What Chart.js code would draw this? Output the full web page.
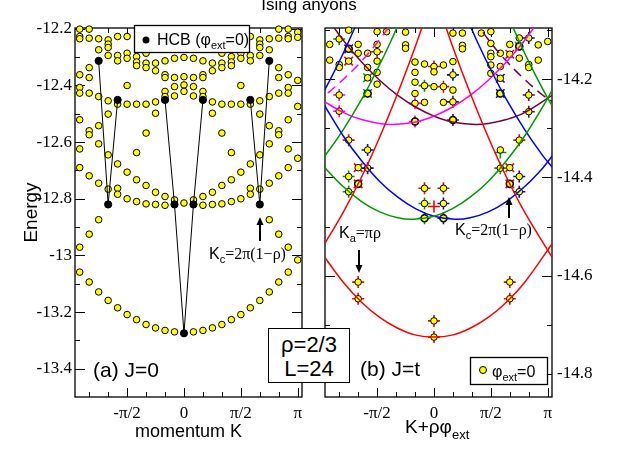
<!DOCTYPE html>
<html><head><meta charset="utf-8">
<script src="https://cdn.jsdelivr.net/npm/chart.js@4.4.1/dist/chart.umd.min.js"></script>
<style>
html,body{margin:0;padding:0;background:#fff;}
#root{position:relative;width:618px;height:451px;overflow:hidden;background:#fff;}
#c1{position:absolute;left:0;top:0;}
#c2{position:absolute;left:312px;top:0;}
#title{position:absolute;left:0;width:618px;top:-4px;text-align:center;font:17px 'Liberation Sans';line-height:17px;color:#000;}
#box{position:absolute;left:268px;top:328px;width:82px;height:55px;box-sizing:border-box;border:1.3px solid #000;background:#fff;font:22px 'Liberation Sans';text-align:center;line-height:24px;padding-top:4px;color:#000;}
</style></head>
<body>
<div id="root">
<canvas id="c1" width="312" height="451"></canvas>
<canvas id="c2" width="306" height="451"></canvas>
<div id="title">Ising anyons</div>
<div id="box">ρ=2/3<br>L=24</div>
</div>
<script>
const PI = Math.PI;
const L = 24;
// ---------- panel (a) J=0 : momentum index n (K = 2πn/L) and energies ----------
const leftYellowN = [
-11,-11,-11,-11,-11,-11,-11,-11,-11,-11,-11,
-10,-10,-10,-10,-10,-10,-10,-10,-10,-10,
-9,-9,-9,-9,-9,-9,-9,-9,
-8,-8,-8,-8,-8,-8,-8,-8,-8,
-7,-7,-7,-7,-7,-7,-7,-7,
-6,-6,-6,-6,-6,-6,-6,-6,
-5,-5,-5,-5,-5,-5,-5,-5,
-4,-4,-4,-4,-4,-4,-4,-4,
-3,-3,-3,-3,-3,-3,-3,
-2,-2,-2,-2,-2,-2,-2,-2,
-1,-1,-1,-1,-1,-1,
0,0,0,0,0,
1,1,1,1,1,1,
2,2,2,2,2,2,2,2,
3,3,3,3,3,3,3,
4,4,4,4,4,4,4,4,
5,5,5,5,5,5,5,5,
6,6,6,6,6,6,6,6,
7,7,7,7,7,7,7,7,
8,8,8,8,8,8,8,8,8,
9,9,9,9,9,9,9,9,
10,10,10,10,10,10,10,10,10,10,
11,11,11,11,11,11,11,11,11,11,11,
12,12,12,12,12,12];
const leftYellowE = [
-12.201,-12.227,-12.235,-12.362,-12.407,-12.427,-12.521,-12.624,-12.690,-12.971,-13.059,
-12.201,-12.233,-12.337,-12.372,-12.427,-12.560,-12.574,-12.719,-12.925,-13.094,
-12.235,-12.274,-12.439,-12.542,-12.606,-12.745,-12.874,-13.129,
-12.239,-12.254,-12.266,-12.294,-12.454,-12.501,-12.645,-12.766,-13.159,
-12.227,-12.294,-12.313,-12.466,-12.677,-12.763,-12.784,-13.185,
-12.227,-12.286,-12.304,-12.400,-12.466,-12.706,-12.800,-13.209,
-12.298,-12.317,-12.330,-12.466,-12.637,-12.733,-12.810,-13.227,
-12.286,-12.321,-12.337,-12.466,-12.568,-12.753,-12.818,-13.244,
-12.321,-12.348,-12.458,-12.498,-12.777,-12.820,-13.256,
-12.313,-12.362,-12.372,-12.421,-12.439,-12.792,-12.823,-13.265,
-12.304,-12.372,-12.404,-12.437,-12.804,-13.270,
-12.301,-12.369,-12.398,-12.421,-12.815,
-12.304,-12.372,-12.404,-12.437,-12.804,-13.270,
-12.313,-12.362,-12.372,-12.421,-12.439,-12.792,-12.823,-13.265,
-12.321,-12.348,-12.458,-12.498,-12.777,-12.820,-13.256,
-12.286,-12.321,-12.337,-12.466,-12.568,-12.753,-12.818,-13.244,
-12.298,-12.317,-12.330,-12.466,-12.637,-12.733,-12.810,-13.227,
-12.227,-12.286,-12.304,-12.400,-12.466,-12.706,-12.800,-13.209,
-12.227,-12.294,-12.313,-12.466,-12.677,-12.763,-12.784,-13.185,
-12.239,-12.254,-12.266,-12.294,-12.454,-12.501,-12.645,-12.766,-13.159,
-12.235,-12.274,-12.439,-12.542,-12.606,-12.745,-12.874,-13.129,
-12.201,-12.233,-12.337,-12.372,-12.427,-12.560,-12.574,-12.719,-12.925,-13.094,
-12.201,-12.227,-12.235,-12.362,-12.407,-12.427,-12.521,-12.624,-12.690,-12.971,-13.059,
-12.212,-12.382,-12.474,-12.657,-13.016,-12.230];
// HCB (phi_ext = 0), null = break in the line
const hcbN = [-9,-8,-7,null,-2,-1,0,1,2,null,7,8,9];
const hcbE = [-12.313,-12.820,-12.451,null,-12.451,-12.820,-13.275,-12.820,-12.451,null,-12.451,-12.820,-12.313];

// ---------- panel (b) J=t ----------
const rightYellowN = [-11,-11,-10,-10,-10,-10,-10,-9,-9,-9,-8,-8,-7,-7,-7,-7,-6,-6,-6,-6,-6,-6,-5,-3,-3,-3,-2,-2,-2,-2,-2,-2,-1,-1,-1,0,0,0,
 1,1,1,2,2,2,2,2,2,3,3,3,5,6,6,6,6,6,6,7,7,7,7,8,8,9,9,9,10,10,10,10,10,11,11,12,
 -9,-9,-9,-8,-8,-7,-7,-1,-1,-1,1,1,1,7,7,8,8,9,9,9,
 -8,-8,0,0,8,8];
const rightYellowE = [-14.129,-14.161,-14.118,-14.170,-14.176,-14.232,-14.265,-14.100,-14.138,-14.163,-14.129,-14.147,-14.147,-14.176,-14.197,-14.229,-14.103,-14.129,-14.144,-14.163,-14.186,-14.210,-14.103,-14.104,-14.130,-14.137,-14.165,-14.186,-14.206,-14.229,-14.249,-14.286,-14.169,-14.213,-14.247,-14.174,-14.185,-14.215,
 -14.171,-14.215,-14.247,-14.106,-14.164,-14.191,-14.222,-14.246,-14.283,-14.106,-14.131,-14.138,-14.106,-14.103,-14.127,-14.147,-14.154,-14.171,-14.188,-14.147,-14.174,-14.198,-14.229,-14.129,-14.149,-14.116,-14.133,-14.157,-14.116,-14.170,-14.176,-14.232,-14.266,-14.130,-14.161,-14.123,
 -14.324,-14.398,-14.429,-14.380,-14.413,-14.344,-14.381,-14.422,-14.453,-14.483,-14.422,-14.453,-14.483,-14.344,-14.381,-14.380,-14.413,-14.324,-14.398,-14.429,
 -14.613,-14.647,-14.692,-14.725,-14.613,-14.647];
const redPlusN = [-9,9,-1,1,0,-8,-8,0,0,8,8,0,-6,1];
const redPlusE = [-14.324,-14.324,-14.422,-14.422,-14.459,-14.613,-14.647,-14.692,-14.725,-14.613,-14.647,-14.174,-14.144,-14.215];
const greenPlusN = [-9,-9,7,7,-1,-1,-1,-10];
const greenPlusE = [-14.398,-14.429,-14.349,-14.381,-14.453,-14.483,-14.213,-14.118];
const bluePlusN = [-7,-7,9,9,1,1,10,2];
const bluePlusE = [-14.344,-14.381,-14.398,-14.429,-14.453,-14.483,-14.116,-14.191];
const redXN = [-8,8,-8,8,-9,8];
const redXE = [-14.380,-14.380,-14.413,-14.413,-14.163,-14.149];
const greenXN = [-7,-7,9];
const greenXE = [-14.197,-14.229,-14.133];
const blueXN = [7,7,-9];
const blueXE = [-14.198,-14.229,-14.138];
const magentaPlusN = [-10,-10,-2,-2];
const magentaPlusE = [-14.232,-14.265,-14.249,-14.286];
const maroonPlusN = [10,10,2,2];
const maroonPlusE = [-14.232,-14.266,-14.246,-14.283];
const blackDotN = [-9,-7,7,9,-8,8,-1,1,-2,2];
const blackDotE = [-14.138,-14.229,-14.229,-14.133,-14.413,-14.413,-14.483,-14.483,-14.286,-14.283];

// dispersion curves (K, E)
const redK = [-3.1,-2.5,-2,-1.5,-1,-0.5,0,0.5,1,1.5,2,2.5,3.3];
const redE = [-14.554,-14.614,-14.654,-14.685,-14.707,-14.721,-14.725,-14.721,-14.707,-14.685,-14.654,-14.614,-14.531];
const redLeftK = [-3.1,-2.5,-2,-1.5,-1,-0.5,-0.2];
const redLeftE = [-14.545,-14.470,-14.399,-14.318,-14.228,-14.130,-14.066];
const redRightK = [0.2,0.5,1,1.5,2,2.5,3.3];
const redRightE = [-14.066,-14.130,-14.228,-14.318,-14.399,-14.470,-14.567];
const blueK = [-3.1,-2.5,-2,-1.5,-1,-0.5,0,0.58,1,1.5,2,2.5,3,3.3];
const blueE = [-14.244,-14.316,-14.366,-14.408,-14.440,-14.464,-14.479,-14.485,-14.482,-14.470,-14.449,-14.419,-14.381,-14.353];
const greenK = [-3.3,-3,-2.5,-2,-1.5,-1,-0.58,0,0.5,1,1.5,2,2.5,3.1,3.3];
const greenE = [-14.353,-14.381,-14.419,-14.449,-14.470,-14.482,-14.485,-14.479,-14.464,-14.440,-14.408,-14.366,-14.316,-14.244,-14.217];
const blueRightK = [0.8,1.2,1.6,2,2.5,3,3.3];
const blueRightE = [-14.057,-14.124,-14.185,-14.241,-14.302,-14.355,-14.382];
const greenLeftK = [-3.3,-3,-2.5,-2,-1.6,-1.2,-0.8];
const greenLeftE = [-14.382,-14.355,-14.302,-14.241,-14.185,-14.124,-14.057];
const greenRightK = [1.9,2.2,2.5,2.8,3.05,3.3];
const greenRightE = [-14.046,-14.097,-14.146,-14.191,-14.226,-14.259];
const blueLeftK = [-3.3,-3.05,-2.8,-2.5,-2.2,-1.9];
const blueLeftE = [-14.259,-14.226,-14.191,-14.146,-14.097,-14.046];
const magentaK = [-3.1,-2.5,-2,-1.5,-1.13,-0.5,0,0.5,1,1.5,2,2.5,3];
const magentaE = [-14.242,-14.268,-14.282,-14.290,-14.292,-14.287,-14.275,-14.257,-14.233,-14.202,-14.165,-14.121,-14.070];
const maroonK = [-3,-2.5,-2,-1.5,-1,-0.5,0,0.5,1.13,1.5,2,2.5,3.3];
const maroonE = [-14.070,-14.121,-14.165,-14.202,-14.233,-14.257,-14.275,-14.287,-14.292,-14.290,-14.282,-14.268,-14.231];
const magentaDashK = [-3.3,-3,-2.5,-2,-1.5,-1.1];
const magentaDashE = [-14.247,-14.232,-14.200,-14.163,-14.119,-14.078];
const maroonDashK = [1.1,1.5,2,2.5,3,3.3];
const maroonDashE = [-14.078,-14.119,-14.163,-14.200,-14.232,-14.247];

// ---------- helpers ----------
const kOf = n => n * 2 * PI / L;
const pts = (N, E) => N.map((n, i) => n === null ? {x: NaN, y: null} : {x: kOf(n), y: E[i]});
const crv = (K, E) => K.map((k, i) => ({x: k, y: E[i]}));

const xMajor = [-PI/2, 0, PI/2, PI];
const xMinor = [-5*PI/6, -2*PI/3, -PI/3, -PI/6, PI/6, PI/3, 2*PI/3, 5*PI/6];
const xLabels = ['-π/2', '0', 'π/2', 'π'];
const leftYMajor = [-12.2, -12.4, -12.6, -12.8, -13, -13.2, -13.4];
const leftYMinor = [-12.3, -12.5, -12.7, -12.9, -13.1, -13.3];
const rightYMajor = [-14.2, -14.4, -14.6, -14.8];
const rightYMinor = [-14.1, -14.3, -14.5, -14.7];

const serif = "'Liberation Serif', 'DejaVu Serif', serif";
const sans = "'Liberation Sans', Arial, sans-serif";

const frameTicks = {
  id: 'frameTicks',
  beforeDatasetsDraw(chart, args, o) {
    const {ctx, chartArea: a} = chart;
    const x = chart.scales.x, y = chart.scales[o.yId];
    ctx.save();
    ctx.strokeStyle = '#000'; ctx.lineWidth = 1.3;
    ctx.strokeRect(a.left, a.top, a.right - a.left, a.bottom - a.top);
    ctx.lineWidth = 1;
    const seg = (x1, y1, x2, y2) => { ctx.beginPath(); ctx.moveTo(x1, y1); ctx.lineTo(x2, y2); ctx.stroke(); };
    const tx = (v, len) => { const p = Math.round(x.getPixelForValue(v)) + 0.5; seg(p, a.bottom, p, a.bottom - len); seg(p, a.top, p, a.top + len); };
    const ty = (v, len) => { const p = Math.round(y.getPixelForValue(v)) + 0.5; seg(a.left, p, a.left + len, p); seg(a.right, p, a.right - len, p); };
    xMajor.forEach(v => tx(v, 9)); xMinor.forEach(v => tx(v, 5));
    o.yMajor.forEach(v => ty(v, 10)); o.yMinor.forEach(v => ty(v, 5));
    ctx.restore();
  }
};

function subText(ctx, x, y, parts) {
  let cx = x;
  parts.forEach(([t, f, dy]) => { ctx.font = f; ctx.fillText(t, cx, y + (dy || 0)); cx += ctx.measureText(t).width; });
  return cx;
}
function arrow(ctx, x, y1, y2) {
  ctx.save(); ctx.strokeStyle = '#000'; ctx.fillStyle = '#000'; ctx.lineWidth = 2;
  const d = y2 < y1 ? 1 : -1;
  ctx.beginPath(); ctx.moveTo(x, y1); ctx.lineTo(x, y2 + 6 * d); ctx.stroke();
  ctx.beginPath(); ctx.moveTo(x, y2); ctx.lineTo(x - 3.5, y2 + 8 * d); ctx.lineTo(x + 3.5, y2 + 8 * d); ctx.closePath(); ctx.fill();
  ctx.restore();
}

const annotA = {
  id: 'annotA',
  afterDraw(chart) {
    const ctx = chart.ctx;
    ctx.save(); ctx.fillStyle = '#000'; ctx.textBaseline = 'alphabetic';
    ctx.font = '21px ' + sans; ctx.fillText('(a) J=0', 93, 377);
    ctx.fillStyle = '#fff'; ctx.fillRect(134, 25, 115, 27);
    ctx.strokeStyle = '#000'; ctx.lineWidth = 1.3; ctx.strokeRect(134.5, 25.5, 115, 27);
    ctx.fillStyle = '#000'; ctx.beginPath(); ctx.arc(146, 40, 3.5, 0, 2 * PI); ctx.fill();
    subText(ctx, 157, 45, [['HCB (φ', '16px ' + sans], ['ext', '11px ' + sans, 4], ['=0)', '16px ' + sans]]);
    subText(ctx, 209, 259, [['K', '16px ' + sans], ['c', '11px ' + sans, 4], ['=2π(1−ρ)', '16px ' + serif]]);
    ctx.restore();
    arrow(ctx, 260, 241, 217);
  }
};
const annotB = {
  id: 'annotB',
  afterDraw(chart) {
    const ctx = chart.ctx;
    ctx.save(); ctx.fillStyle = '#000'; ctx.textBaseline = 'alphabetic';
    ctx.font = '21px ' + sans; ctx.fillText('(b) J=t', 48, 376);
    ctx.fillStyle = '#fff'; ctx.fillRect(158, 357, 77, 27);
    ctx.strokeStyle = '#000'; ctx.lineWidth = 1.3; ctx.strokeRect(158.5, 357.5, 77, 27);
    ctx.fillStyle = '#ffff00'; ctx.lineWidth = 1; ctx.beginPath(); ctx.arc(171, 370, 3.5, 0, 2 * PI); ctx.fill(); ctx.stroke();
    ctx.fillStyle = '#000';
    subText(ctx, 180, 377, [['φ', '16px ' + sans], ['ext', '11px ' + sans, 4], ['=0', '16px ' + sans]]);
    subText(ctx, 27, 238, [['K', '16px ' + sans], ['a', '11px ' + sans, 4], ['=πρ', '16px ' + serif]]);
    subText(ctx, 143, 235, [['K', '16px ' + sans], ['c', '11px ' + sans, 4], ['=2π(1−ρ)', '16px ' + serif]]);
    subText(ctx, 93, 433, [['K+ρφ', '19px ' + sans], ['ext', '13px ' + sans, 6]]);
    ctx.restore();
    arrow(ctx, 47, 250, 273);
    arrow(ctx, 197, 218, 197);
  }
};

function xScale(showTitle) {
  return {
    type: 'linear', position: 'bottom', min: -3.01, max: 3.26,
    afterBuildTicks: s => { s.ticks = xMajor.map(v => ({value: v})); },
    afterFit: s => { s.height = 54; },
    grid: {display: false, drawTicks: false}, border: {display: false},
    ticks: {callback: (v, i) => xLabels[i], color: '#000', font: {family: serif, size: 17}, padding: 6, maxRotation: 0, autoSkip: false},
    title: {display: showTitle, text: 'momentum K', color: '#000', font: {family: sans, size: 18}, padding: {top: 0, bottom: 8}}
  };
}

const yellowStyle = {pointRadius: 3.3, pointBackgroundColor: '#ffff00', pointBorderColor: '#000', pointBorderWidth: 1, showLine: false, clip: false};
const mk = (N, E, style, color, extra) => Object.assign({data: pts(N, E), showLine: false, clip: false, pointStyle: style, pointRadius: 6, pointBorderColor: color, pointBackgroundColor: color, pointBorderWidth: 1.6}, extra || {});
const line = (K, E, color, dash) => ({data: crv(K, E), showLine: true, pointRadius: 0, borderColor: color, borderWidth: 1.5, borderDash: dash || [], tension: 0.4, fill: false});

new Chart(document.getElementById('c1'), {
  type: 'scatter',
  data: {datasets: [
    {label: 'HCB', data: pts(hcbN, hcbE), showLine: true, spanGaps: false, borderColor: '#000', borderWidth: 1, pointRadius: 3.6, pointBackgroundColor: '#000', pointBorderColor: '#000', clip: false, order: 0},
    Object.assign({label: 'states', data: pts(leftYellowN, leftYellowE), order: 1}, yellowStyle)
  ]},
  options: {
    responsive: false, animation: false, events: [],
    layout: {padding: {left: 0, right: 10, top: 28, bottom: 0}, autoPadding: false},
    plugins: {legend: {display: false}, tooltip: {enabled: false}, frameTicks: {yId: 'y', yMajor: leftYMajor, yMinor: leftYMinor}},
    scales: {
      x: xScale(true),
      y: {type: 'linear', position: 'left', min: -13.5, max: -12.197,
        afterBuildTicks: s => { s.ticks = leftYMajor.map(v => ({value: v})); },
        afterFit: s => { s.width = 75; },
        grid: {display: false, drawTicks: false}, border: {display: false},
        ticks: {color: '#000', font: {family: serif, size: 17}, padding: 3, callback: v => String(v)},
        title: {display: true, text: 'Energy', color: '#000', font: {family: sans, size: 19}, padding: {top: 20, bottom: 0}}}
    }
  },
  plugins: [frameTicks, annotA]
});

new Chart(document.getElementById('c2'), {
  type: 'scatter',
  data: {datasets: [
    line(redK, redE, '#ff0000'), line(redLeftK, redLeftE, '#ff0000'), line(redRightK, redRightE, '#ff0000'),
    line(greenK, greenE, '#009900'), line(blueK, blueE, '#0000ff'),
    line(greenLeftK, greenLeftE, '#009900'), line(blueRightK, blueRightE, '#0000ff'),
    line(greenRightK, greenRightE, '#009900'), line(blueLeftK, blueLeftE, '#0000ff'),
    line(magentaK, magentaE, '#ff00ff'), line(maroonK, maroonE, '#770044'),
    line(magentaDashK, magentaDashE, '#ff00ff', [10, 6]), line(maroonDashK, maroonDashE, '#770044', [10, 6]),
    Object.assign({data: pts(rightYellowN, rightYellowE)}, yellowStyle),
    mk(blackDotN, blackDotE, 'circle', '#000', {pointRadius: 3.5}),
    mk(redPlusN, redPlusE, 'cross', '#ff0000'),
    mk(greenPlusN, greenPlusE, 'cross', '#009900'),
    mk(bluePlusN, bluePlusE, 'cross', '#0000ff'),
    mk(redXN, redXE, 'crossRot', '#ff0000'),
    mk(greenXN, greenXE, 'crossRot', '#009900'),
    mk(blueXN, blueXE, 'crossRot', '#0000ff'),
    mk(magentaPlusN, magentaPlusE, 'cross', '#ff00ff'),
    mk(maroonPlusN, maroonPlusE, 'cross', '#770044')
  ]},
  options: {
    responsive: false, animation: false, events: [],
    layout: {padding: {left: 13, right: 0, top: 28, bottom: 0}, autoPadding: false},
    plugins: {legend: {display: false}, tooltip: {enabled: false}, frameTicks: {yId: 'y', yMajor: rightYMajor, yMinor: rightYMinor}},
    scales: {
      x: xScale(false),
      y: {type: 'linear', position: 'right', min: -14.847, max: -14.0956,
        afterBuildTicks: s => { s.ticks = rightYMajor.map(v => ({value: v})); },
        afterFit: s => { s.width = 66; },
        grid: {display: false, drawTicks: false}, border: {display: false},
        ticks: {color: '#000', font: {family: serif, size: 17}, padding: 5, callback: v => String(v)}}
    }
  },
  plugins: [frameTicks, annotB]
});
</script>
</body></html>
